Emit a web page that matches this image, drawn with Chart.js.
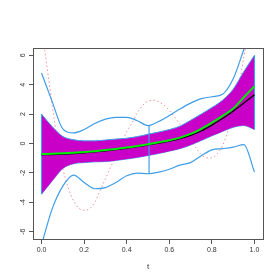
<!DOCTYPE html>
<html>
<head>
<meta charset="utf-8">
<script src="https://cdn.jsdelivr.net/npm/chart.js@4"></script>
<style>
  html, body { margin: 0; padding: 0; background: #fff; }
  #wrap { width: 280px; height: 280px; }
</style>
</head>
<body>
<div id="wrap"><canvas id="grafica" width="280" height="280"></canvas></div>
<script>
// grid of t for the band, the mean lines and the blue envelope
const tGrid = [0, 0.05, 0.1, 0.15, 0.2, 0.25, 0.3, 0.35, 0.4, 0.45, 0.5,
               0.55, 0.6, 0.65, 0.7, 0.75, 0.8, 0.85, 0.9, 0.95, 1.0];

const bandUpper = [2.0, 1.15, 0.48, 0.26, 0.18, 0.18, 0.24, 0.3, 0.36, 0.47, 0.63,
                   0.78, 0.95, 1.18, 1.58, 2.0, 2.45, 2.95, 3.7, 4.9, 6.0];
const bandLower = [-3.45, -2.55, -1.7, -1.38, -1.3, -1.25, -1.23, -1.15, -1.06, -0.95, -0.82,
                   -0.68, -0.52, -0.35, -0.1, 0.2, 0.52, 0.82, 1.1, 1.22, 0.95];

const blackMean = [-0.77, -0.75, -0.72, -0.68, -0.63, -0.57, -0.5, -0.42, -0.33, -0.22, -0.1,
                   0.02, 0.16, 0.33, 0.55, 0.85, 1.25, 1.7, 2.2, 2.75, 3.32];
const greenFit  = [-0.72, -0.7, -0.67, -0.63, -0.58, -0.52, -0.45, -0.37, -0.28, -0.17, -0.05,
                   0.08, 0.22, 0.4, 0.65, 1.0, 1.42, 1.88, 2.38, 3.15, 3.9];

const blueUpper = [4.8, 2.85, 1.0, 0.72, 0.95, 1.36, 1.66, 1.78, 1.78, 1.55, 1.22,
                   1.5, 1.9, 2.35, 2.75, 3.05, 3.18, 3.35, 4.4, 6.4, 8.5];
const blueLower = [-6.9, -4.45, -2.9, -2.15, -2.65, -3.08, -3.0, -2.65, -2.2, -2.02, -2.06,
                   -1.95, -1.75, -1.47, -1.3, -0.83, -0.43, -0.35, -0.25, -0.07, -1.95];

// vertical blue segment joining the two envelopes
const bridgeT = 0.505;
const bridgeY = [1.2, -2.07];

// dotted pink curve
const pinkT = [0, 0.025, 0.05, 0.075, 0.1, 0.125, 0.15, 0.175, 0.2, 0.225, 0.25,
               0.275, 0.3, 0.325, 0.35, 0.375, 0.4, 0.425, 0.45, 0.475, 0.5,
               0.525, 0.55, 0.575, 0.6, 0.625, 0.65, 0.675, 0.7, 0.725, 0.75,
               0.775, 0.8, 0.825, 0.85, 0.875, 0.9, 0.925, 0.95, 0.975, 1.0];
const pinkY = [8.0, 5.3, 2.6, 0.2, -1.7, -3.0, -3.9, -4.4, -4.55, -4.45, -4.0,
               -3.2, -2.4, -1.6, -0.8, 0.0, 0.8, 1.4, 2.1, 2.6, 2.88,
               2.95, 2.85, 2.6, 2.25, 1.8, 1.28, 0.75, 0.25, -0.3, -0.75,
               -0.97, -0.98, -0.7, -0.15, 0.85, 2.2, 3.75, 5.9, 8.0, 10.0];

const xTicks = [0, 0.2, 0.4, 0.6, 0.8, 1.0];
const yTicks = [-6, -4, -2, 0, 2, 4, 6];

const BLUE = '#3f9ee8';
const MAGENTA = '#c800c8';

function pts(ts, ys) {
    return ts.map((t, i) => ({ x: t, y: ys[i] }));
}

const cajaR = {
    id: 'cajaR',
    afterDraw(chart) {
        const a = chart.chartArea;
        const ctx = chart.ctx;
        ctx.save();
        ctx.strokeStyle = '#555';
        ctx.lineWidth = 1;
        ctx.strokeRect(Math.round(a.left) + 0.5, Math.round(a.top) + 0.5,
                       Math.round(a.right - a.left), Math.round(a.bottom - a.top));
        ctx.restore();
    }
};

const last = tGrid.length - 1;

new Chart(document.getElementById('grafica').getContext('2d'), {
    type: 'line',
    data: {
        datasets: [
            { data: pts(tGrid, greenFit), borderColor: '#00ee00', borderWidth: 2, order: 0 },
            { data: pts(tGrid, blackMean), borderColor: '#000', borderWidth: 1.3, order: 1 },
            { data: pts(tGrid, blueUpper), borderColor: BLUE, borderWidth: 1.2, order: 2 },
            { data: pts(tGrid, blueLower), borderColor: BLUE, borderWidth: 1.2, order: 2 },
            { data: [{x: bridgeT, y: bridgeY[0]}, {x: bridgeT, y: bridgeY[1]}],
              borderColor: BLUE, borderWidth: 1.2, order: 2 },
            { data: [{x: 0, y: bandUpper[0]}, {x: 0, y: bandLower[0]}],
              borderColor: BLUE, borderWidth: 1.2, order: 3 },
            { data: [{x: 1, y: bandUpper[last]}, {x: 1, y: bandLower[last]}],
              borderColor: BLUE, borderWidth: 1.2, order: 3 },
            { data: pts(tGrid, bandUpper), borderColor: BLUE, borderWidth: 1,
              backgroundColor: MAGENTA, fill: '+1', order: 4 },
            { data: pts(tGrid, bandLower), borderColor: BLUE, borderWidth: 1, order: 4 },
            { data: pts(pinkT, pinkY), borderColor: '#f4909a', borderWidth: 1,
              borderDash: [1.5, 2.5], order: 6 }
        ]
    },
    options: {
        responsive: false,
        animation: false,
        events: [],
        elements: {
            point: { radius: 0 },
            line: { cubicInterpolationMode: 'monotone', fill: false }
        },
        layout: { padding: { left: 0, right: 17, top: 48, bottom: 0 } },
        plugins: { legend: { display: false }, tooltip: { enabled: false } },
        scales: {
            x: {
                type: 'linear', min: -0.04, max: 1.04,
                afterFit(s) { s.height = 41; },
                afterBuildTicks(s) { s.ticks = xTicks.map(v => ({ value: v })); },
                border: { display: false },
                grid: { drawOnChartArea: false, drawTicks: true, tickLength: 5, color: '#555' },
                ticks: {
                    includeBounds: false, padding: 2, color: '#333',
                    font: { family: 'Liberation Sans', size: 7 },
                    callback: v => v.toFixed(1)
                },
                title: {
                    display: true, text: 't', color: '#333',
                    font: { family: 'Liberation Sans', size: 8 },
                    padding: { top: 0, bottom: 8 }
                }
            },
            y: {
                min: -6.5, max: 6.5,
                afterFit(s) { s.width = 33; },
                afterBuildTicks(s) { s.ticks = yTicks.map(v => ({ value: v })); },
                border: { display: false },
                grid: { drawOnChartArea: false, drawTicks: true, tickLength: 4, color: '#555' },
                ticks: {
                    includeBounds: false, padding: 3, color: '#333',
                    minRotation: 90, maxRotation: 90, crossAlign: 'center',
                    font: { family: 'Liberation Sans', size: 7 },
                    callback: v => String(v)
                }
            }
        }
    },
    plugins: [cajaR]
});
</script>
</body>
</html>
